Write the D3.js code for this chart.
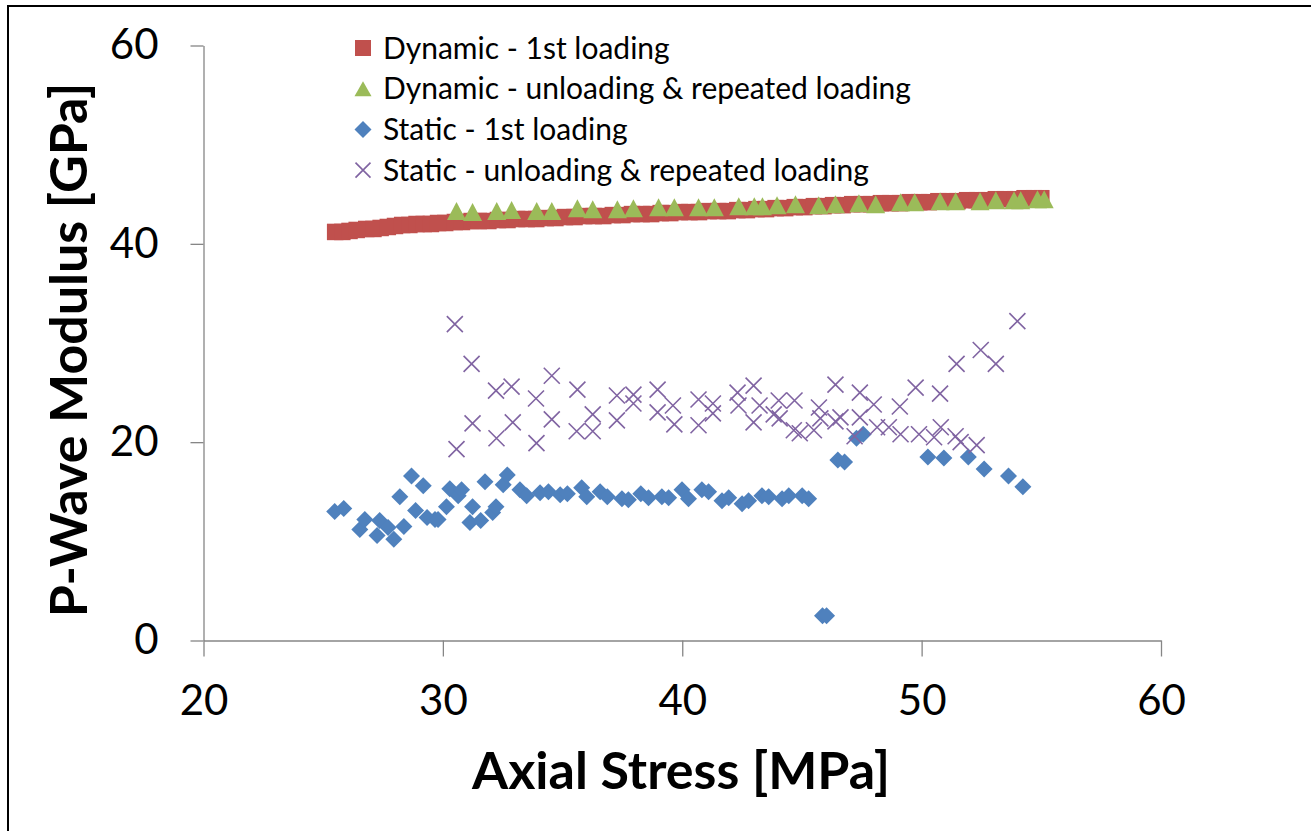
<!DOCTYPE html>
<html>
<head>
<meta charset="utf-8">
<script src="https://cdn.jsdelivr.net/npm/d3@7/dist/d3.min.js"></script>
<style>
  body { margin: 0; background: #fff; }
  svg text { font-family: Lato, "Open Sans", sans-serif; fill: #000; }
</style>
</head>
<body>
<script>
// P-wave modulus vs axial stress
var dynLoad = [
  [25.5,41.2],[25.8,41.2],[26.1,41.3],[26.4,41.4],[26.8,41.5],[27.1,41.5],[27.4,41.6],[27.7,41.7],
  [28.0,41.8],[28.3,41.9],[28.6,41.9],[28.9,42.0],[29.2,42.0],[29.5,42.0],[29.8,42.1],[30.1,42.1],
  [30.5,42.2],[30.8,42.2],[31.2,42.3],[31.5,42.3],[31.9,42.3],[32.3,42.4],[32.7,42.4],[33.1,42.5],
  [33.5,42.5],[33.9,42.5],[34.3,42.6],[34.7,42.6],[35.1,42.7],[35.5,42.7],[35.9,42.8],[36.3,42.8],
  [36.7,42.8],[37.1,42.9],[37.5,42.9],[37.9,43.0],[38.3,43.0],[38.7,43.0],[39.1,43.1],[39.5,43.1],
  [39.9,43.2],[40.3,43.2],[40.7,43.2],[41.1,43.3],[41.5,43.3],[41.9,43.3],[42.3,43.4],[42.7,43.4],
  [43.1,43.5],[43.5,43.5],[43.9,43.6],[44.3,43.6],[44.7,43.7],[45.1,43.7],[45.5,43.8],[45.9,43.8],
  [46.3,43.9],[46.7,43.9],[47.1,44.0],[47.5,44.0],[47.9,44.0],[48.3,44.1],[48.7,44.1],[49.1,44.1],
  [49.5,44.2],[49.9,44.2],[50.3,44.2],[50.7,44.3],[51.1,44.3],[51.5,44.3],[51.9,44.4],[52.3,44.4],
  [52.7,44.4],[53.1,44.5],[53.5,44.5],[53.9,44.5],[54.3,44.6],[54.7,44.6],[55.0,44.6]
]
var dynUnload = [
  [30.57,43.3],[31.24,43.2],[32.25,43.3],[32.87,43.4],[33.92,43.3],[34.55,43.3],[35.62,43.6],[36.26,43.5],
  [37.29,43.5],[37.96,43.6],[39.01,43.7],[39.67,43.7],[40.68,43.7],[41.34,43.7],[42.36,43.8],[43.01,43.8],
  [43.35,43.8],[43.96,43.9],[44.73,44.0],[45.70,43.9],[46.40,44.0],[47.38,44.1],[48.08,44.0],[49.12,44.2],
  [49.71,44.2],[50.77,44.3],[51.42,44.3],[52.44,44.3],[53.10,44.4],[53.86,44.4],[54.14,44.4],[54.84,44.5],
  [55.12,44.5]
]
var statLoad = [
  [25.48,13.0],[25.86,13.3],[26.53,11.2],[26.74,12.2],[27.25,10.6],[27.36,12.1],[27.71,11.4],[27.95,10.2],
  [28.20,14.5],[28.37,11.5],[28.69,16.6],[28.86,13.1],[29.18,15.6],[29.34,12.4],[29.67,12.2],[29.80,12.2],
  [30.15,13.5],[30.29,15.3],[30.64,14.6],[30.78,15.2],[31.13,11.9],[31.24,13.5],[31.58,12.1],[31.76,16.0],
  [32.08,12.9],[32.22,13.5],[32.52,15.7],[32.69,16.7],[33.22,15.2],[33.50,14.6],[34.06,14.9],[34.41,15.0],
  [34.90,14.7],[35.20,14.8],[35.80,15.4],[36.01,14.5],[36.57,15.0],[36.87,14.5],[37.48,14.3],[37.75,14.2],
  [38.27,14.8],[38.59,14.4],[39.15,14.5],[39.43,14.4],[39.99,15.2],[40.26,14.3],[40.82,15.2],[41.10,15.0],
  [41.66,14.1],[41.94,14.4],[42.50,13.8],[42.77,14.1],[43.33,14.6],[43.61,14.5],[44.17,14.3],[44.45,14.6],
  [45.01,14.6],[45.28,14.3],[45.86,2.5],[46.03,2.5],[46.50,18.2],[46.78,18.0],[47.28,20.4],[47.56,20.8],
  [50.26,18.5],[50.93,18.4],[51.95,18.5],[52.61,17.3],[53.63,16.6],[54.23,15.5]
]
var statUnload = [
  [30.50,31.9],[30.57,19.3],[31.20,27.9],[31.24,21.9],[32.22,25.2],[32.24,20.4],[32.87,25.6],[32.92,22.0],
  [33.89,24.4],[33.91,19.9],[34.55,26.7],[34.55,22.3],[35.62,25.3],[35.59,21.1],[36.26,22.8],[36.26,21.1],
  [37.27,24.7],[37.27,22.2],[37.96,24.8],[37.96,23.9],[38.97,25.3],[38.97,23.0],[39.61,23.7],[39.67,21.8],
  [40.68,24.3],[40.68,21.7],[41.28,23.9],[41.28,22.9],[42.31,25.0],[42.35,23.7],[42.98,25.7],[42.98,22.0],
  [43.23,23.7],[43.82,22.8],[44.03,24.2],[44.07,22.4],[44.69,24.2],[44.66,21.2],[44.91,20.9],[45.50,21.2],
  [45.71,23.5],[45.77,22.4],[46.40,25.8],[46.40,22.1],[46.61,22.5],[47.20,20.6],[47.42,25.0],[47.42,22.5],
  [48.00,23.8],[48.14,21.5],[48.63,21.5],[49.09,23.6],[49.12,20.8],[49.75,25.5],[49.89,20.8],[50.52,20.5],
  [50.77,24.9],[50.80,21.5],[51.42,20.6],[51.46,27.9],[51.63,20.0],[52.30,19.7],[52.47,29.3],[53.10,27.9],
  [54.00,32.2]
]
var xTicks = [20, 30, 40, 50, 60]
var yTicks = [0, 20, 40, 60]
var legendNames = [
  "Dynamic - 1st loading",
  "Dynamic - unloading & repeated loading",
  "Static - 1st loading",
  "Static - unloading & repeated loading"
]

var red = "#C0504D", green = "#9BBB59", blue = "#4F81BD", purple = "#8064A2"
var axisCol = "#868686"

var W = 1311, H = 831
var svg = d3.select("body").append("svg")
  .attr("width", W)
  .attr("height", H)

// outer frame (right / bottom run off the picture)
svg.append("rect")
  .attr("x", 8).attr("y", 6)
  .attr("width", 1320).attr("height", 840)
  .attr("fill", "none").attr("stroke", "#000").attr("stroke-width", 2)

var x = d3.scaleLinear().domain([20, 60]).range([203.5, 1161])
var y = d3.scaleLinear().domain([0, 60]).range([640.5, 45.5])

// axes
var gx = svg.append("g")
  .attr("transform", "translate(0," + y(0) + ")")
  .call(d3.axisBottom(x).tickValues(xTicks).tickSize(16).tickPadding(29).tickSizeOuter(0))
var gy = svg.append("g")
  .attr("transform", "translate(" + x(20) + ",0)")
  .call(d3.axisLeft(y).tickValues(yTicks).tickSize(13).tickPadding(32).tickSizeOuter(0))

;[gx, gy].forEach(function(g) {
  g.select(".domain").attr("stroke", axisCol).attr("stroke-width", 1.3)
  g.selectAll(".tick line").attr("stroke", axisCol).attr("stroke-width", 1.3)
  g.selectAll(".tick text")
    .attr("font-family", "Lato, sans-serif")
    .attr("font-size", 42)
    .attr("fill", "#000")
})

// marker shapes
function squarePath(s) {
  return "M" + (-s/2) + "," + (-s/2) + "h" + s + "v" + s + "h" + (-s) + "Z"
}
function diamondPath(r) {
  return "M0," + (-r) + "L" + r + ",0L0," + r + "L" + (-r) + ",0Z"
}
function trianglePath(w, h) {
  return "M0," + (-h/2) + "L" + (w/2) + "," + (h/2) + "L" + (-w/2) + "," + (h/2) + "Z"
}
function crossPath(r) {
  return "M" + (-r) + "," + (-r) + "L" + r + "," + r + "M" + r + "," + (-r) + "L" + (-r) + "," + r
}

var plot = svg.append("g")

plot.selectAll("path.dl").data(dynLoad).enter().append("path")
  .attr("class", "dl")
  .attr("d", squarePath(16.5))
  .attr("transform", function(d) { return "translate(" + x(d[0]) + "," + y(d[1]) + ")" })
  .attr("fill", red)

plot.selectAll("path.du").data(dynUnload).enter().append("path")
  .attr("class", "du")
  .attr("d", trianglePath(19, 18))
  .attr("transform", function(d) { return "translate(" + x(d[0]) + "," + y(d[1]) + ")" })
  .attr("fill", green)

plot.selectAll("path.sl").data(statLoad).enter().append("path")
  .attr("class", "sl")
  .attr("d", diamondPath(8.5))
  .attr("transform", function(d) { return "translate(" + x(d[0]) + "," + y(d[1]) + ")" })
  .attr("fill", blue)

plot.selectAll("path.su").data(statUnload).enter().append("path")
  .attr("class", "su")
  .attr("d", crossPath(8))
  .attr("transform", function(d) { return "translate(" + x(d[0]) + "," + y(d[1]) + ")" })
  .attr("fill", "none")
  .attr("stroke", purple)
  .attr("stroke-width", 1.6)

// legend
var legendShapes = [
  { d: squarePath(16), fill: red, stroke: "none" },
  { d: trianglePath(17, 15), fill: green, stroke: "none" },
  { d: diamondPath(8.5), fill: blue, stroke: "none" },
  { d: crossPath(7.5), fill: "none", stroke: purple }
]
var leg = svg.append("g").attr("transform", "translate(363,48)")
var rows = leg.selectAll("g").data(legendNames).enter().append("g")
  .attr("transform", function(d, i) { return "translate(0," + (i * 40.7) + ")" })
rows.append("path")
  .attr("d", function(d, i) { return legendShapes[i].d })
  .attr("fill", function(d, i) { return legendShapes[i].fill })
  .attr("stroke", function(d, i) { return legendShapes[i].stroke })
  .attr("stroke-width", 1.6)
rows.append("text")
  .attr("x", 20)
  .attr("y", 10.5)
  .attr("font-size", 30)
  .text(function(d) { return d })

// axis titles
svg.append("text")
  .attr("x", 681)
  .attr("y", 789)
  .attr("text-anchor", "middle")
  .attr("font-size", 52)
  .attr("font-weight", "bold")
  .text("Axial Stress [MPa]")

svg.append("text")
  .attr("transform", "translate(87,350) rotate(-90)")
  .attr("text-anchor", "middle")
  .attr("font-size", 52)
  .attr("font-weight", "bold")
  .text("P-Wave Modulus [GPa]")
</script>
</body>
</html>
